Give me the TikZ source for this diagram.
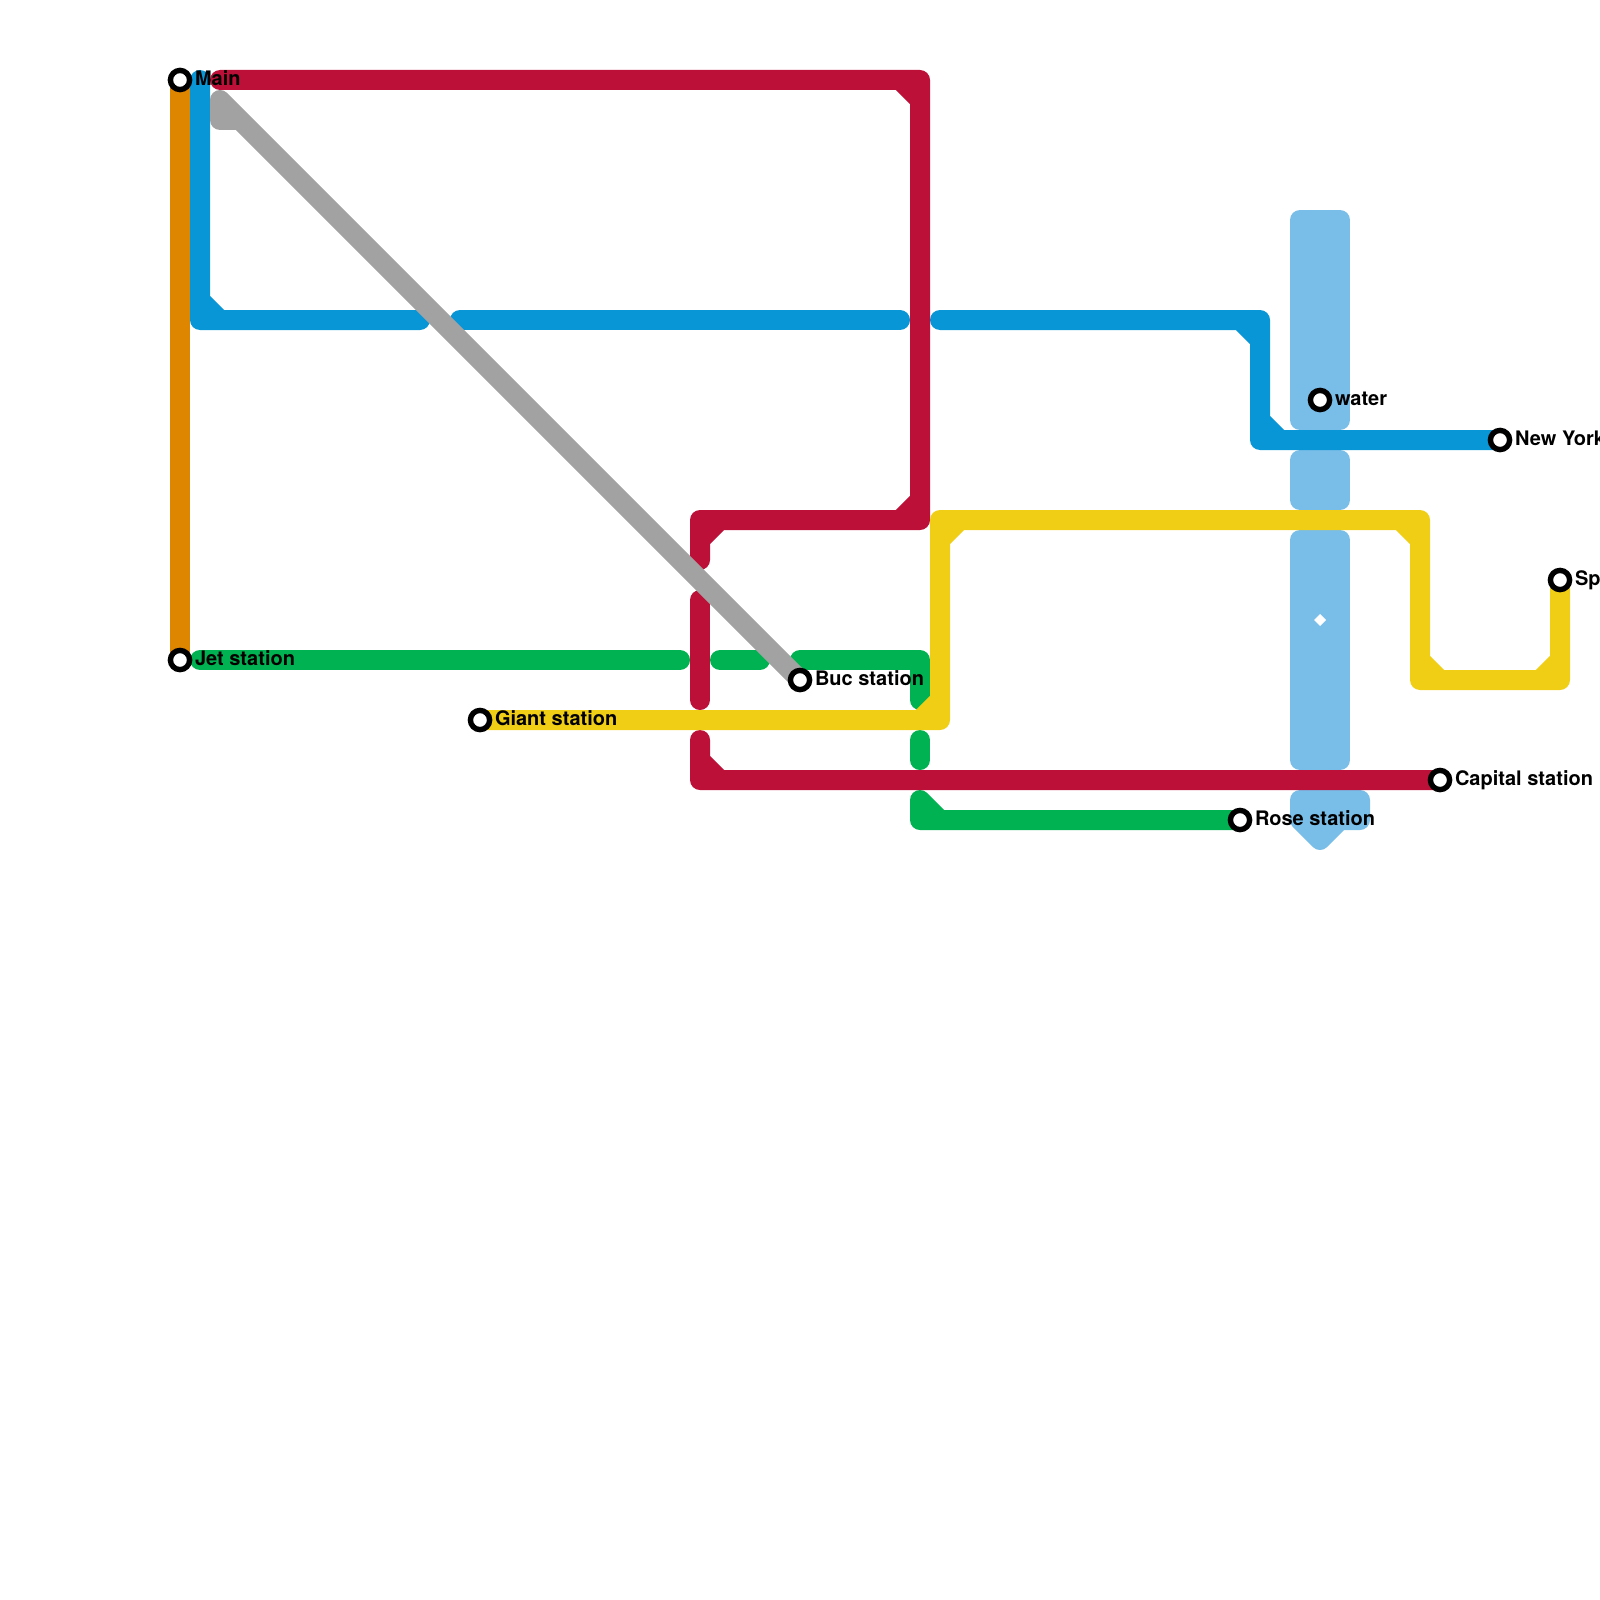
\documentclass[tikz,border=0pt]{standalone}
\usepackage{fontspec}
\setmainfont{TeX Gyre Heros}
\definecolor{riverblue}{HTML}{79BDE9}
\definecolor{lineblue}{HTML}{0896D7}
\definecolor{linered}{HTML}{BD1038}
\definecolor{lineyellow}{HTML}{F0CE15}
\definecolor{linegreen}{HTML}{00B251}
\definecolor{lineorange}{HTML}{DF8600}
\definecolor{linegray}{HTML}{A2A2A2}
\pgfdeclarelayer{lines}
\pgfsetlayers{lines,main}
\tikzset{
  track/.style={line width=20pt,line cap=round,line join=round},
  river/.style={draw=riverblue,fill=riverblue,line width=20pt,line join=round},
  station/.style={circle,draw=black,fill=white,line width=5.4pt,minimum size=19.2pt,inner sep=0pt,outer sep=0pt},
  stationlabel/.style={anchor=base west,inner sep=0pt,outer sep=0pt,font=\bfseries\fontsize{20}{24}\selectfont,text=black},
}
\begin{document}
\begin{tikzpicture}[x=1pt,y=-1pt]
\useasboundingbox (0,0) rectangle (1600,1600);
% stations
\node[station] (main) at (180,80) {};
\node[station] (jet) at (180,660) {};
\node[station] (giant) at (480,720) {};
\node[station] (buc) at (800,680) {};
\node[station] (water) at (1320,400) {};
\node[station] (newyork) at (1500,440) {};
\node[station] (sp) at (1560,580) {};
\node[station] (capital) at (1440,780) {};
\node[station] (rose) at (1240,820) {};
% labels
\node[stationlabel] (mainlabel) at (195,85.3) {Main};
\node[stationlabel] (jetlabel) at (195,665.3) {Jet station};
\node[stationlabel] (giantlabel) at (495,725.3) {Giant station};
\node[stationlabel] (buclabel) at (815,685.3) {Buc station};
\node[stationlabel] (waterlabel) at (1335,405.3) {water};
\node[stationlabel] (newyorklabel) at (1515,445.3) {New York};
\node[stationlabel] (splabel) at (1575,585.3) {Sp};
\node[stationlabel] (capitallabel) at (1455,785.3) {Capital station};
\node[stationlabel] (roselabel) at (1255,825.3) {Rose station};
% free ends of the interrupted lines
\coordinate (blueA) at (200,80);
\coordinate (blueB) at (420,320);
\coordinate (blueC) at (460,320);
\coordinate (blueD) at (900,320);
\coordinate (blueE) at (940,320);
\coordinate (redA) at (220,80);
\coordinate (redB) at (700,560);
\coordinate (redC) at (700,600);
\coordinate (redD) at (700,700);
\coordinate (redE) at (700,740);
\coordinate (greenA) at (200,660);
\coordinate (greenB) at (680,660);
\coordinate (greenC) at (720,660);
\coordinate (greenD) at (760,660);
\coordinate (greenE) at (800,660);
\coordinate (greenF) at (920,700);
\coordinate (greenG) at (920,740);
\coordinate (greenH) at (920,760);
\coordinate (greenI) at (920,800);
\coordinate (grayA) at (220,100);
\begin{pgfonlayer}{lines}
% river
\path[river] (1300,220) -- (1340,220) -- (1340,420) -- (1300,420) -- cycle;
\path[river] (1300,460) -- (1340,460) -- (1340,500) -- (1300,500) -- cycle;
\path[river] (1300,540) -- (1340,540) -- (1340,760) -- (1300,760) -- cycle;
\path[river] (1300,800) -- (1360,800) -- (1360,820) -- (1340,820) -- (1320,840) -- (1300,820) -- cycle;
% orange
\draw[track,lineorange,line cap=butt] (main.center) -- (jet.center);
% blue
\draw[track,lineblue] (blueA) -- (200,320) -- (blueB) (200,300) -- (220,320);
\draw[track,lineblue] (blueC) -- (blueD);
\draw[track,lineblue] (blueE) -- (1260,320) -- (1260,440) -- (newyork.center)
  (1240,320) -- (1260,340) (1260,420) -- (1280,440);
% green
\draw[track,linegreen] (greenA) -- (greenB);
\draw[track,linegreen] (greenC) -- (greenD);
\draw[track,linegreen] (greenE) -- (920,660) -- (greenF);
\draw[track,linegreen] (greenG) -- (greenH);
\draw[track,linegreen] (greenI) -- (920,820) -- (rose.center) (greenI) -- (940,820);
% red
\draw[track,linered] (redA) -- (920,80) -- (920,520) -- (700,520) -- (redB)
  (900,80) -- (920,100) (920,500) -- (900,520) (720,520) -- (700,540);
\draw[track,linered] (redC) -- (redD);
\draw[track,linered] (redE) -- (700,780) -- (capital.center) (700,760) -- (720,780);
% yellow
\draw[track,lineyellow] (giant.center) -- (940,720) -- (940,520) -- (1420,520) -- (1420,680) -- (1560,680) -- (sp.center)
  (940,700) -- (920,720) (940,540) -- (960,520) (1400,520) -- (1420,540)
  (1420,660) -- (1440,680) (1540,680) -- (1560,660);
% gray
\draw[track,linegray] (grayA) -- (buc.center) (grayA) -- (220,120) -- (240,120);
\end{pgfonlayer}
% river mark
\fill[white] (1320,614) -- (1326,620) -- (1320,626) -- (1314,620) -- cycle;
\end{tikzpicture}
\end{document}
